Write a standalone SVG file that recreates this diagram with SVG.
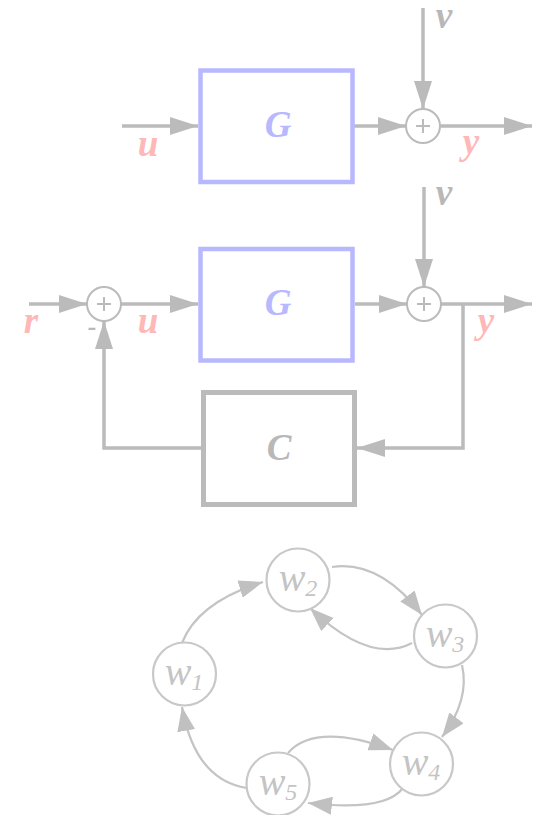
<svg xmlns="http://www.w3.org/2000/svg" width="539" height="815" viewBox="0 0 539 815">
<style>
.ln{fill:none;stroke:#bbbbbb;stroke-width:3.5}
.ed{fill:none;stroke:#c4c4c4;stroke-width:2.2}
.gb{fill:none;stroke:#b8b8ff;stroke-width:4.5}
.cb{fill:none;stroke:#bbbbbb;stroke-width:5}
.sum{fill:#ffffff;stroke:#bbbbbb;stroke-width:2}
.pl{stroke:#bbbbbb;stroke-width:2}
.nd{fill:#ffffff;stroke:#c8c8c8;stroke-width:2.2}
.t{font-family:"Liberation Serif","Times New Roman",serif;font-style:italic;font-weight:bold;font-size:37px;text-anchor:middle}
.tb{fill:#b8b8ff}
.tp{fill:#ffb8b8}
.tg{fill:#b8b8b8}
.w{font-family:"Liberation Serif","Times New Roman",serif;font-style:italic;font-size:40px;fill:#c4c4c4;text-anchor:middle}
</style>
<defs>
<marker id="a" viewBox="0 0 28 18" markerWidth="28" markerHeight="18" refX="28" refY="9" orient="auto" markerUnits="userSpaceOnUse"><path d="M0,0 L28,9 L0,18 Z" fill="#bbbbbb"/></marker>
<marker id="b" viewBox="0 0 24 18" markerWidth="24" markerHeight="18" refX="24" refY="9" orient="auto" markerUnits="userSpaceOnUse"><path d="M0,0 L24,9 L0,18 Z" fill="#c0c0c0"/></marker>
</defs>

<g id="connectors">
<line class="ln" x1="122" y1="126" x2="198" y2="126" marker-end="url(#a)"/>
<line class="ln" x1="354" y1="126" x2="406" y2="126" marker-end="url(#a)"/>
<line class="ln" x1="423" y1="8" x2="423" y2="109" marker-end="url(#a)"/>
<line class="ln" x1="440" y1="126" x2="532" y2="126" marker-end="url(#a)"/>
<line class="ln" x1="29" y1="304" x2="87" y2="304" marker-end="url(#a)"/>
<line class="ln" x1="121" y1="304" x2="198" y2="304" marker-end="url(#a)"/>
<line class="ln" x1="355" y1="304" x2="407" y2="304" marker-end="url(#a)"/>
<line class="ln" x1="424" y1="187" x2="424" y2="287" marker-end="url(#a)"/>
<line class="ln" x1="441" y1="304" x2="532" y2="304" marker-end="url(#a)"/>
<polyline class="ln" points="463,304 463,448 357,448" marker-end="url(#a)"/>
<polyline class="ln" points="201,448 104,448 104,321" marker-end="url(#a)"/>
<path class="ed" d="M182,643 Q198,602 263,582" marker-end="url(#b)"/>
<path class="ed" d="M332,567 Q380,560 422,615" marker-end="url(#b)"/>
<path class="ed" d="M412,643 Q370,665 310,608" marker-end="url(#b)"/>
<path class="ed" d="M462,665 Q470,700 442,737" marker-end="url(#b)"/>
<path class="ed" d="M403,788 Q385,812 308,803" marker-end="url(#b)"/>
<path class="ed" d="M288,753 Q315,722 393,750" marker-end="url(#b)"/>
<path class="ed" d="M247,788 Q195,780 182,707" marker-end="url(#b)"/>
</g>

<g id="G1">
<rect class="gb" x="200.5" y="70.5" width="152" height="111.5"/>
<text class="t tb" x="278" y="137">G</text>
</g>
<g id="sum1">
<circle class="sum" cx="423" cy="126" r="17"/>
<line class="pl" x1="416" y1="126" x2="430" y2="126"/>
<line class="pl" x1="423" y1="119" x2="423" y2="133"/>
</g>
<g id="labels1">
<text class="t tp" x="148" y="156">u</text>
<text class="t tg" x="444" y="28">v</text>
<text class="t tp" x="471" y="154">y</text>
</g>

<g id="sumr">
<circle class="sum" cx="104" cy="304" r="17"/>
<line class="pl" x1="97" y1="304" x2="111" y2="304"/>
<line class="pl" x1="104" y1="297" x2="104" y2="311"/>
</g>
<g id="G2">
<rect class="gb" x="200.5" y="249" width="152" height="111.5"/>
<text class="t tb" x="278" y="315">G</text>
</g>
<g id="sum2">
<circle class="sum" cx="424" cy="304" r="17"/>
<line class="pl" x1="417" y1="304" x2="431" y2="304"/>
<line class="pl" x1="424" y1="297" x2="424" y2="311"/>
</g>
<g id="C">
<rect class="cb" x="203.5" y="392.5" width="151" height="112"/>
<text class="t tg" x="279" y="460">C</text>
</g>
<g id="labels2">
<text class="t tp" x="31" y="333">r</text>
<text class="t tg" x="92" y="335" style="font-size:26px">-</text>
<text class="t tp" x="148" y="333">u</text>
<text class="t tg" x="444" y="205">v</text>
<text class="t tp" x="486" y="333">y</text>
</g>

<g id="w1"><circle class="nd" cx="184.5" cy="674" r="31.5"/><text class="w" x="184" y="685">w<tspan font-size="24" dy="5">1</tspan></text></g>
<g id="w2"><circle class="nd" cx="298" cy="580" r="31.5"/><text class="w" x="298" y="591">w<tspan font-size="24" dy="5">2</tspan></text></g>
<g id="w3"><circle class="nd" cx="445.5" cy="636" r="31.5"/><text class="w" x="445" y="647">w<tspan font-size="24" dy="5">3</tspan></text></g>
<g id="w4"><circle class="nd" cx="421.5" cy="764" r="31.5"/><text class="w" x="421" y="775">w<tspan font-size="24" dy="5">4</tspan></text></g>
<g id="w5"><circle class="nd" cx="278" cy="784" r="31.5"/><text class="w" x="278" y="795">w<tspan font-size="24" dy="5">5</tspan></text></g>
</svg>
